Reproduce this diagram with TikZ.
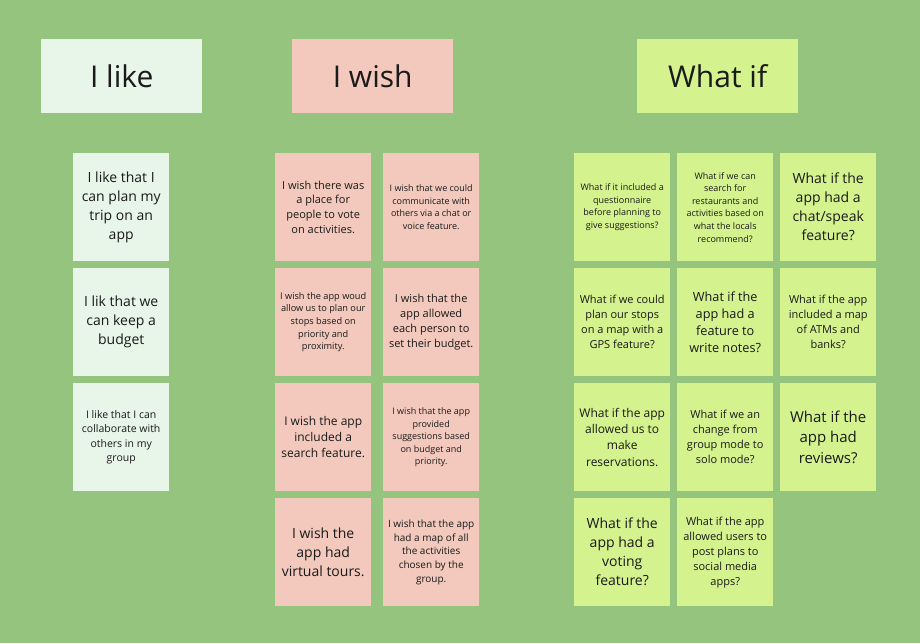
\documentclass[tikz,border=0pt]{standalone}
\usepackage{fontspec}
\setmainfont{Open Sans}
\definecolor{bg}{HTML}{94C47D}
\definecolor{likefill}{HTML}{E8F5E9}
\definecolor{wishfill}{HTML}{F2C9BC}
\definecolor{whatfill}{HTML}{D4F28E}
\definecolor{txt}{HTML}{1A1A1A}
\begin{document}
\begin{tikzpicture}[x=1pt,y=-1pt,
  hdr/.style={anchor=north west, minimum width=161pt, minimum height=74pt, inner sep=0pt, text=txt, font=\fontsize{30}{36}\selectfont},
  card/.style={anchor=north west, minimum width=96pt, minimum height=108pt, inner sep=0pt, align=center, text=txt},
  likec/.style={card, fill=likefill},
  wishc/.style={card, fill=wishfill},
  whatc/.style={card, fill=whatfill},
  fs/.style 2 args={font=\fontsize{#1}{#2}\selectfont}]
\fill[bg] (0,0) rectangle (920,643);
\useasboundingbox (0,0) rectangle (920,643);
% headers
\node[hdr, fill=likefill] (hlike) at (41,39) {I like};
\node[hdr, fill=wishfill] (hwish) at (292,39) {I wish};
\node[hdr, fill=whatfill] (hwhat) at (637,39) {What if};
% I like
\node[likec, fs={14}{19}] (l1) at (73,153) {I like that I\\can plan my\\trip on an\\app};
\node[likec, fs={14}{19}] (l2) at (73,268) {I lik that we\\can keep a\\budget};
\node[likec, fs={10.5}{14.6}] (l3) at (73,383) {I like that I can\\collaborate with\\others in my\\group};
% I wish
\node[wishc, fs={11}{14.7}] (w1) at (275,153) {I wish there was\\a place for\\people to vote\\on activities.};
\node[wishc, fs={9}{12.4}] (w2) at (383,153) {I wish that we could\\communicate with\\others via a chat or\\voice feature.};
\node[wishc, fs={9.2}{12.7}] (w3) at (275,268) {I wish the app woud\\allow us to plan our\\stops based on\\priority and\\proximity.};
\node[wishc, fs={11}{15}] (w4) at (383,268) {I wish that the\\app allowed\\each person to\\set their budget.};
\node[wishc, fs={12}{16}] (w5) at (275,383) {I wish the app\\included a\\search feature.};
\node[wishc, fs={9}{12.5}] (w6) at (383,383) {I wish that the app\\provided\\suggestions based\\on budget and\\priority.};
\node[wishc, fs={14}{19}] (w7) at (275,498) {I wish the\\app had\\virtual tours.};
\node[wishc, fs={10}{13.6}] (w8) at (383,498) {I wish that the app\\had a map of all\\the activities\\chosen by the\\group.};
% What if
\node[whatc, fs={9}{12.5}] (q1) at (574,153) {What if it included a\\questionnaire\\before planning to\\give suggestions?};
\node[whatc, fs={9}{12.6}] (q2) at (677,153) {What if we can\\search for\\restaurants and\\activities based on\\what the locals\\recommend?};
\node[whatc, fs={14}{19}] (q3) at (780,153) {What if the\\app had a\\chat/speak\\feature?};
\node[whatc, fs={11}{15}] (q4) at (574,268) {What if we could\\plan our stops\\on a map with a\\GPS feature?};
\node[whatc, fs={12.7}{17.3}] (q5) at (677,268) {What if the\\app had a\\feature to\\write notes?};
\node[whatc, fs={11}{15}] (q6) at (780,268) {What if the app\\included a map\\of ATMs and\\banks?};
\node[whatc, fs={12}{16.4}] (q7) at (574,383) {What if the app\\allowed us to\\make\\reservations.};
\node[whatc, fs={11}{15}] (q8) at (677,383) {What if we an\\change from\\group mode to\\solo mode?};
\node[whatc, fs={15}{20.7}] (q9) at (780,383) {What if the\\app had\\reviews?};
\node[whatc, fs={14}{19}] (q10) at (574,498) {What if the\\app had a\\voting\\feature?};
\node[whatc, fs={11}{15}] (q11) at (677,498) {What if the app\\allowed users to\\post plans to\\social media\\apps?};
\end{tikzpicture}
\end{document}
